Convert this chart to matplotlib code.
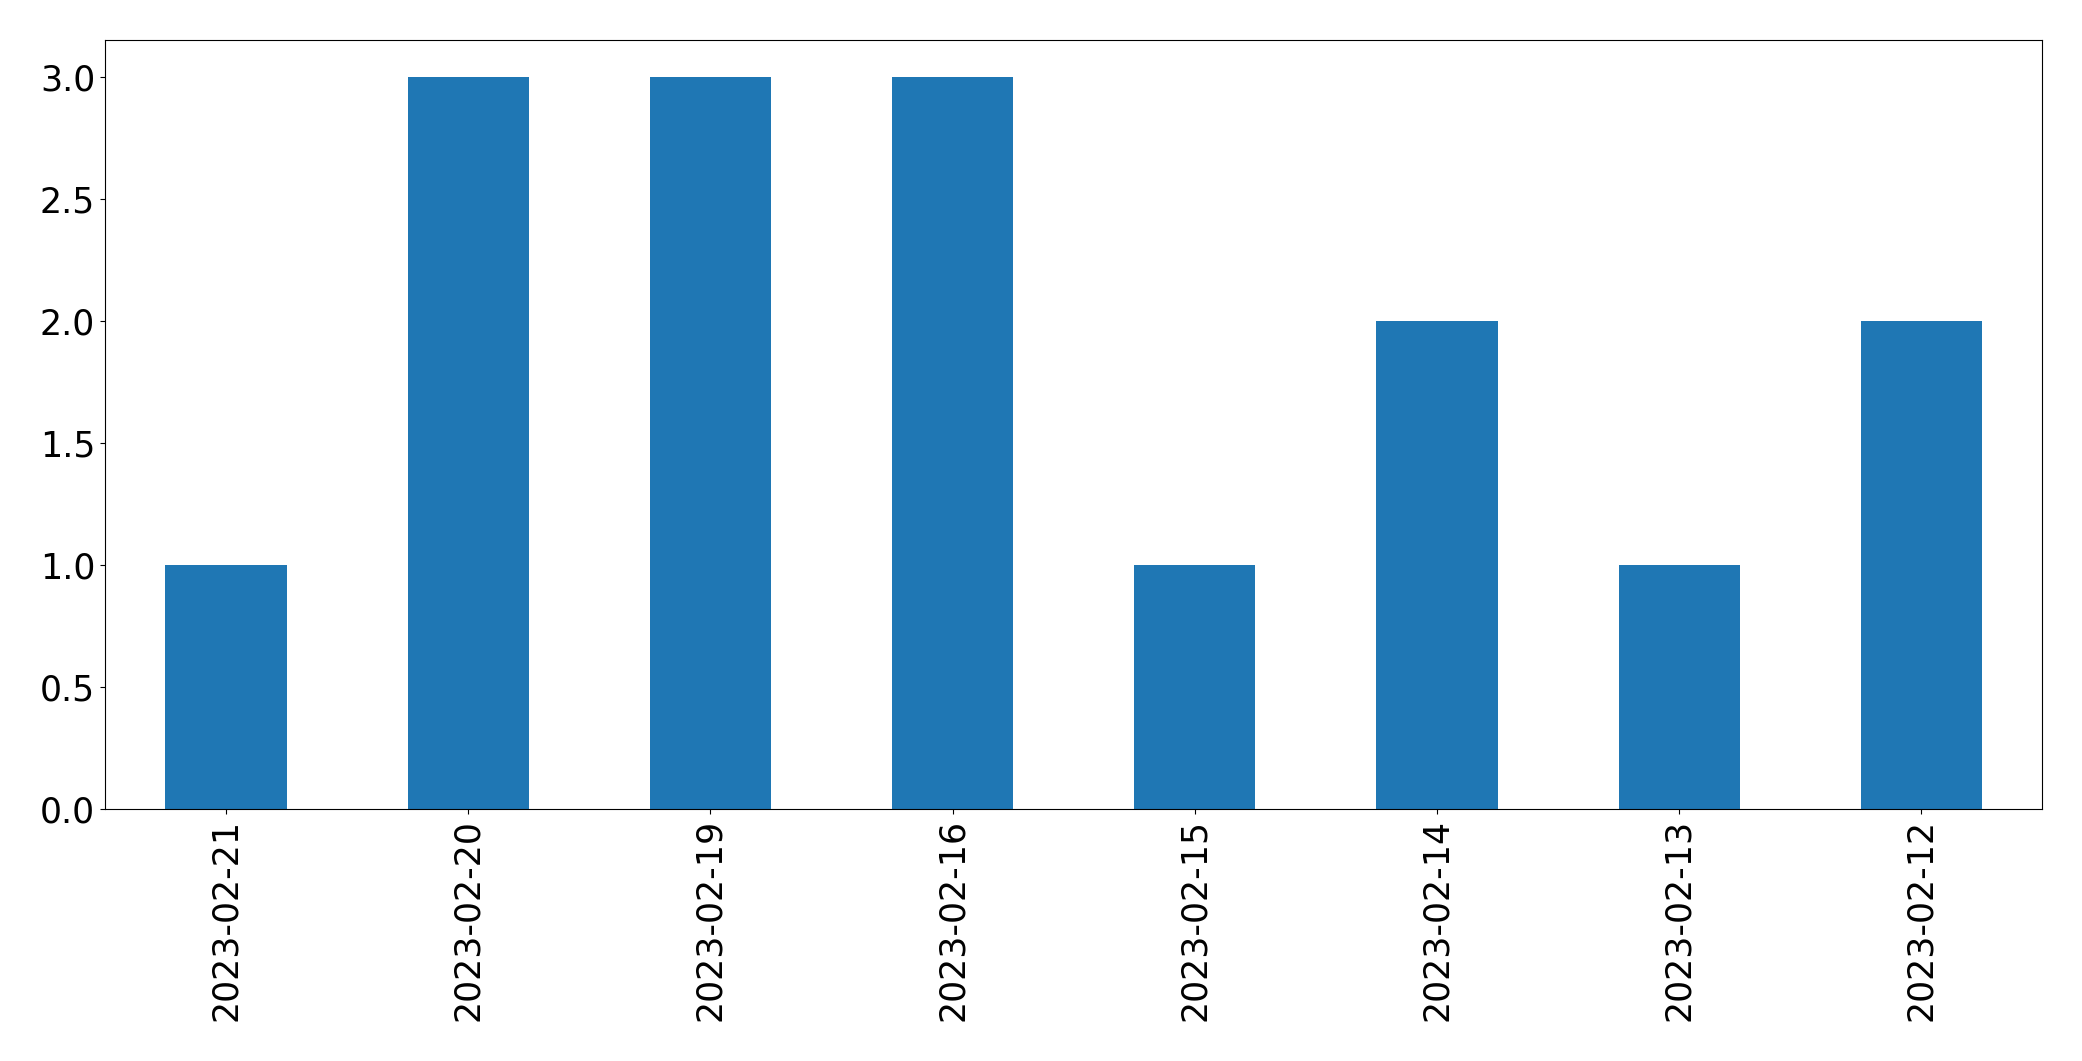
import matplotlib
matplotlib.use("Agg")
import matplotlib.pyplot as plt
import pandas as pd

dates = ['2023-02-21', '2023-02-20', '2023-02-19', '2023-02-16',
         '2023-02-15', '2023-02-14', '2023-02-13', '2023-02-12']
counts = [1, 3, 3, 3, 1, 2, 1, 2]

s = pd.Series(counts, index=dates)

fig = plt.figure(figsize=(20.82, 10.61), dpi=100)
ax = fig.add_subplot(111)
s.plot(kind='bar', ax=ax, color='#1f77b4')
ax.tick_params(labelsize=25)
fig.subplots_adjust(left=0.0504, right=0.981, top=0.962, bottom=0.2375)
fig.savefig('out.png', dpi=100)
